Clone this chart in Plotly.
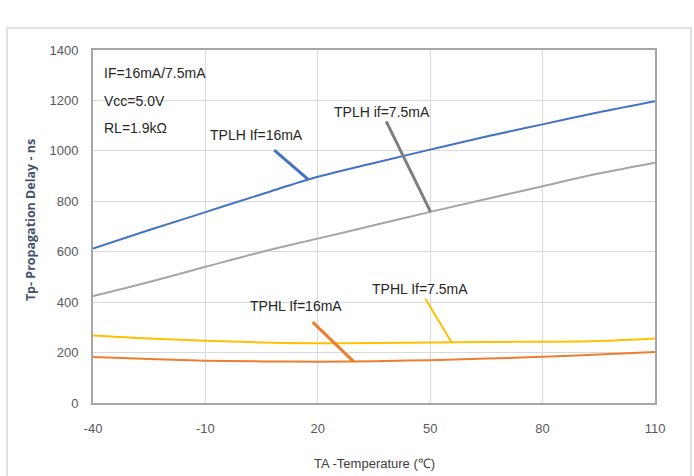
import numpy as np
import plotly.graph_objects as go

# Ambient temperature (°C)
temp = [-40, -25, -10, 5, 20, 35, 50, 65, 80, 95, 110]

# Propagation delay (ns)
tplh_16 = [613, 686, 757, 828, 897, 952, 1005, 1057, 1105, 1153, 1197]
tplh_75 = [424, 480, 540, 599, 652, 705, 758, 809, 860, 910, 953]
tphl_75 = [268, 256, 247, 240, 237, 238, 240, 242, 243, 246, 256]
tphl_16 = [182, 175, 168, 165, 164, 166, 170, 176, 183, 192, 202]

x_ticks = [-40, -10, 20, 50, 80, 110]
y_ticks = [0, 200, 400, 600, 800, 1000, 1200, 1400]

BLUE, GRAY, YELLOW, ORANGE = "#4472C4", "#A5A5A5", "#FFC000", "#ED7D31"
SANS = "Liberation Sans, Arial, sans-serif"

fig = go.Figure()
for ys, col in [(tplh_16, BLUE), (tplh_75, GRAY), (tphl_75, YELLOW), (tphl_16, ORANGE)]:
    fig.add_trace(go.Scatter(x=temp, y=ys, mode="lines",
                             line=dict(color=col, width=2, shape="spline", smoothing=1.0),
                             showlegend=False, hoverinfo="skip"))

# Callout labels with leader lines pointing onto each curve
callouts = [
    ("TPLH If=16mA", tplh_16, 17.5, -52, -45, "#4472C4", 3, 9),
    ("TPLH if=7.5mA", tplh_75, 50.1, -49, -100, "#7F7F7F", 3, 0),
    ("TPHL If=16mA", tphl_16, 29.5, -57, -55, "#ED7D31", 3, 9),
    ("TPHL If=7.5mA", tphl_75, 55.7, -32, -53, "#FFC000", 2, 0),
]
annotations = []
for text, ys, xt, ax, ay, col, w, so in callouts:
    annotations.append(dict(
        x=xt, y=float(np.interp(xt, temp, ys)), xref="x", yref="y",
        text=text, showarrow=True, arrowhead=0, arrowwidth=w, arrowcolor=col,
        ax=ax, ay=ay, axref="pixel", ayref="pixel", startstandoff=so,
        font=dict(family=SANS, size=14, color="#262626"),
    ))

# Test-condition note in the upper-left corner
for i, line in enumerate(["IF=16mA/7.5mA", "Vcc=5.0V", "RL=1.9kΩ"]):
    annotations.append(dict(
        x=0, y=1, xref="paper", yref="paper", xanchor="left", yanchor="top",
        xshift=9, yshift=-13 - 27.5 * i, text=line, showarrow=False,
        font=dict(family=SANS, size=14, color="#262626"),
    ))

# Axis titles
annotations.append(dict(
    x=-0.111, y=0.5, xref="paper", yref="paper", yshift=6, text="Tp- Propagation Delay - ns",
    textangle=-90, showarrow=False, xanchor="center", yanchor="middle",
    font=dict(family="Open Sans, DejaVu Sans, sans-serif", size=12.5, color="#44546A", weight="bold"),
))
annotations.append(dict(
    x=0.5, y=0, xref="paper", yref="paper", yshift=-60, text="TA -Temperature (℃)",
    showarrow=False, xanchor="center", yanchor="middle",
    font=dict(family=SANS, size=13, color="#404040"),
))

fig.update_layout(
    width=694, height=476,
    margin=dict(l=93, r=39, t=50, b=73),
    paper_bgcolor="white", plot_bgcolor="white",
    annotations=annotations,
    shapes=[dict(type="rect", xref="paper", yref="paper", x0=-0.153, x1=1.064, y0=-0.25, y1=1.062,
                 line=dict(color="#DDE1E6", width=2), layer="below")],
)
fig.update_xaxes(
    range=[-40, 110], tickvals=x_ticks, ticktext=[str(v) for v in x_ticks],
    showgrid=True, gridcolor="#D9D9D9", gridwidth=1,
    showline=True, linecolor="#A6A6A6", linewidth=2, mirror=True, zeroline=False,
    ticks="", ticklabelstandoff=12,
    tickfont=dict(family=SANS, size=13, color="#595959"),
)
fig.update_yaxes(
    range=[0, 1400], tickvals=y_ticks, ticktext=[str(v) for v in y_ticks],
    showgrid=True, gridcolor="#D9D9D9", gridwidth=1,
    showline=True, linecolor="#A6A6A6", linewidth=2, mirror=True, zeroline=False,
    ticks="", ticklabelstandoff=10,
    tickfont=dict(family=SANS, size=13, color="#595959"),
)

fig.write_html("out.html")
